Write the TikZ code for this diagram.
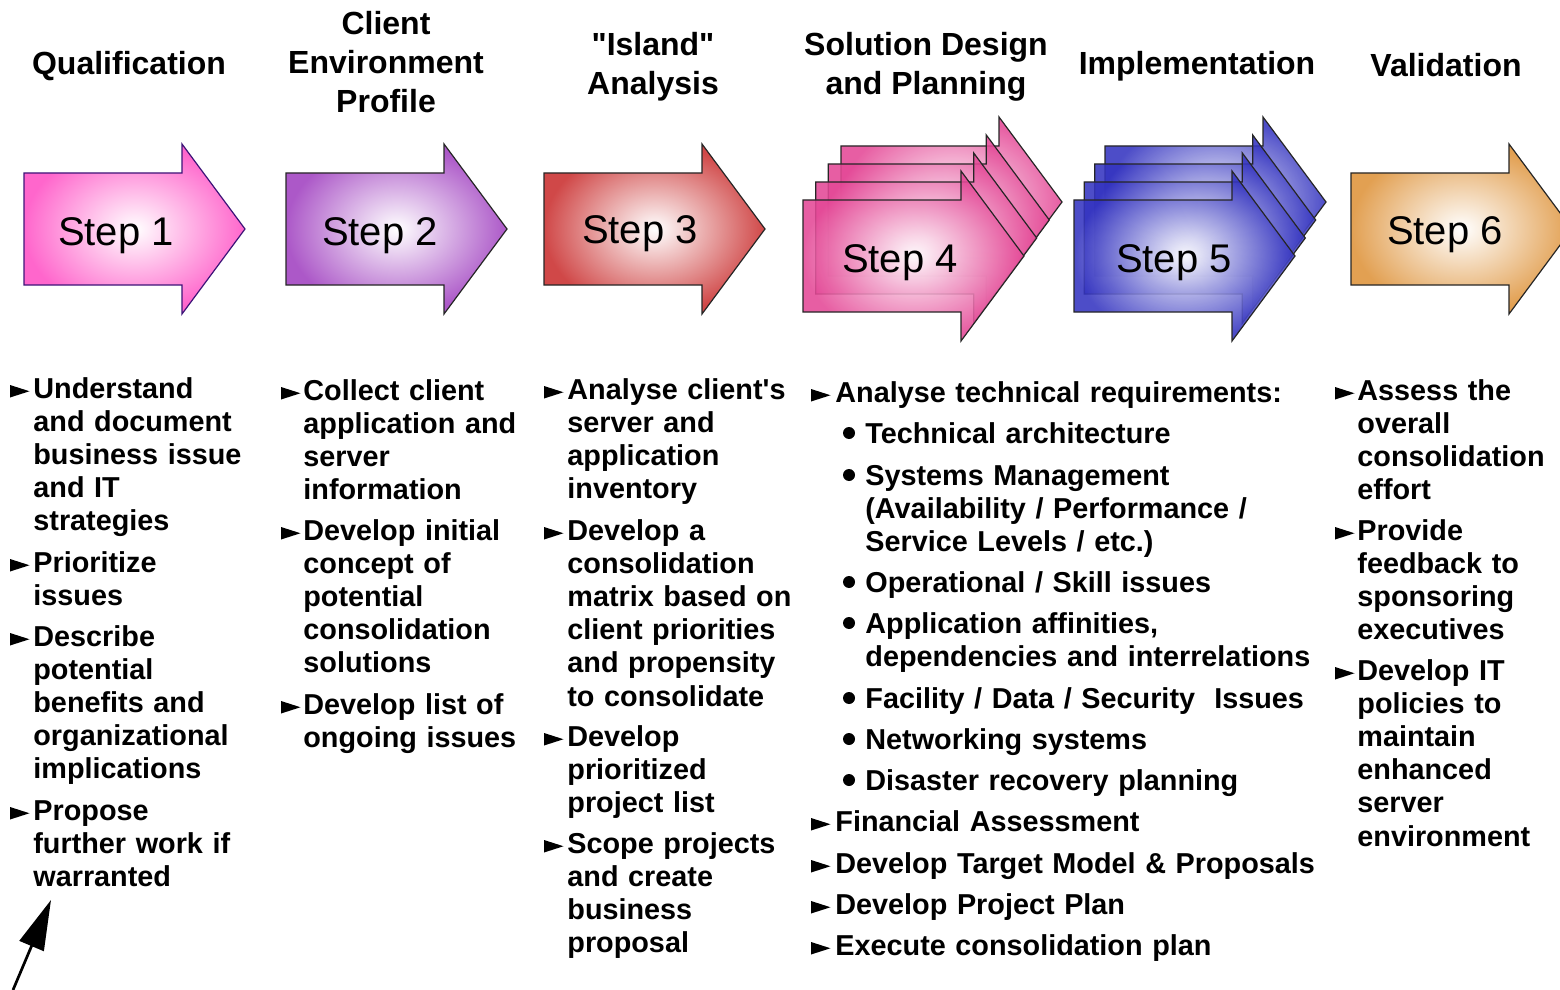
\documentclass[tikz,border=0pt]{standalone}
\usepackage{fontspec}
\setmainfont{Liberation Sans}[Ligatures=TeXOff]
\usetikzlibrary{arrows.meta}
\definecolor{cOne}{RGB}{255,102,204}
\definecolor{cTwo}{RGB}{172,88,200}
\definecolor{cThree}{RGB}{208,72,72}
\definecolor{cFour}{RGB}{228,72,150}
\definecolor{cFive}{RGB}{52,52,192}
\definecolor{cSix}{RGB}{226,160,82}
\definecolor{edgeOne}{RGB}{60,20,120}
\newcommand\steparrow[4][]{%
  \path[arrowbox,outer color=#4,#1] (#2,#3) -- (#2+158,#3) -- (#2+158,#3-29) -- (#2+221,#3+56) -- (#2+158,#3+141) -- (#2+158,#3+112) -- (#2,#3+112) -- cycle;}
\newcommand\bul[2]{\fill (#1,#2-0.5) -- (#1,#2-13) -- (#1+19.5,#2-6.75) -- cycle;}
\newcommand\subbul[2]{\fill (#1,#2-10) circle[radius=6];}
\begin{document}
\begin{tikzpicture}[x=0.5pt,y=-0.5pt,
  arrowbox/.style={draw=black!85,line width=0.6pt,shading=radial,inner color=white},
  stacked/.style={fill opacity=0.88},
  hdr/.style={inner sep=0pt,align=center,font=\bfseries\fontsize{16}{19.5}\selectfont},
  steplbl/.style={anchor=base,inner sep=0pt,font=\fontsize{20}{24}\selectfont},
  itm/.style={anchor=base west,inner sep=0pt,text width=320pt,align=left,font=\bfseries\fontsize{14.4}{16.6}\selectfont}]
\useasboundingbox (0,0) rectangle (1560,990);

% ---- headers
\node[hdr] (h1) at (129,66) {Qualification};
\node[hdr] (h2) at (386,62) {Client\\Environment\\Profile};
\node[hdr] (h3) at (653,67) {"Island"\\Analysis};
\node[hdr] (h4) at (926,67) {Solution Design\\and Planning};
\node[hdr] (h5) at (1197,66) {Implementation};
\node[hdr] (h6) at (1446,65) {Validation};

% ---- step arrows
\steparrow[draw=edgeOne]{24}{173}{cOne}
\steparrow{286}{173}{cTwo}
\steparrow{544}{173}{cThree}
\steparrow{1351}{173}{cSix}
% step 4 stack
\steparrow[stacked]{841}{146}{cFour}
\steparrow[stacked]{828.3}{164}{cFour}
\steparrow[stacked]{815.7}{182}{cFour}
\steparrow[stacked]{803}{200}{cFour}
% step 5 stack
\steparrow[stacked]{1105}{146}{cFive}
\steparrow[stacked]{1094.7}{164}{cFive}
\steparrow[stacked]{1084.3}{182}{cFive}
\steparrow[stacked]{1074}{200}{cFive}

\node[steplbl] (s1) at (116,245) {Step 1};
\node[steplbl] (s2) at (380,245) {Step 2};
\node[steplbl] (s3) at (640,243) {Step 3};
\node[steplbl] (s4) at (900,272) {Step 4};
\node[steplbl] (s5) at (1174,272) {Step 5};
\node[steplbl] (s6) at (1445,244) {Step 6};

% ---- column 1
\bul{10}{398}\node[itm] (c1a) at (33,398) {Understand\\and document\\business issue\\and IT\\strategies};
\bul{10}{572}\node[itm] (c1b) at (33,572) {Prioritize\\issues};
\bul{10}{646}\node[itm] (c1c) at (33,646) {Describe\\potential\\benefits and\\organizational\\implications};
\bul{10}{820}\node[itm] (c1d) at (33,820) {Propose\\further work if\\warranted};

% ---- column 2
\bul{281}{400}\node[itm] (c2a) at (303,400) {Collect client\\application and\\server\\information};
\bul{281}{540}\node[itm] (c2b) at (303,540) {Develop initial\\concept of\\potential\\consolidation\\solutions};
\bul{281}{714}\node[itm] (c2c) at (303,714) {Develop list of\\ongoing issues};

% ---- column 3
\bul{544}{399}\node[itm] (c3a) at (567,399) {Analyse client's\\server and\\application\\inventory};
\bul{544}{540}\node[itm] (c3b) at (567,540) {Develop a\\consolidation\\matrix based on\\client priorities\\and propensity\\to consolidate};
\bul{544}{746}\node[itm] (c3c) at (567,746) {Develop\\prioritized\\project list};
\bul{544}{853}\node[itm] (c3d) at (567,853) {Scope projects\\and create\\business\\proposal};

% ---- column 4
\bul{811}{402}\node[itm] (c4a) at (835,402) {Analyse technical requirements:};
\subbul{849}{443}\node[itm] (c4b) at (865,443) {Technical architecture};
\subbul{849}{485}\node[itm] (c4c) at (865,485) {Systems Management\\(Availability / Performance /\\Service Levels / etc.)};
\subbul{849}{592}\node[itm] (c4d) at (865,592) {Operational / Skill issues};
\subbul{849}{633}\node[itm] (c4e) at (865,633) {Application affinities,\\dependencies and interrelations};
\subbul{849}{708}\node[itm] (c4f) at (865,708) {Facility / Data / Security\ \ Issues};
\subbul{849}{749}\node[itm] (c4g) at (865,749) {Networking systems};
\subbul{849}{790}\node[itm] (c4h) at (865,790) {Disaster recovery planning};
\bul{811}{831}\node[itm] (c4i) at (835,831) {Financial Assessment};
\bul{811}{873}\node[itm] (c4j) at (835,873) {Develop Target Model \& Proposals};
\bul{811}{914}\node[itm] (c4k) at (835,914) {Develop Project Plan};
\bul{811}{955}\node[itm] (c4l) at (835,955) {Execute consolidation plan};

% ---- column 5
\bul{1335}{400}\node[itm] (c5a) at (1357,400) {Assess the\\overall\\consolidation\\effort};
\bul{1335}{540}\node[itm] (c5b) at (1357,540) {Provide\\feedback to\\sponsoring\\executives};
\bul{1335}{680}\node[itm] (c5c) at (1357,680) {Develop IT\\policies to\\maintain\\enhanced\\server\\environment};

% ---- pointer arrow
\coordinate (pS) at (13,990);
\coordinate (pE) at (51,900);
\draw[line width=1.35pt,-{Triangle[length=25pt,width=13pt]}] (pS) -- (pE);
\end{tikzpicture}
\end{document}
